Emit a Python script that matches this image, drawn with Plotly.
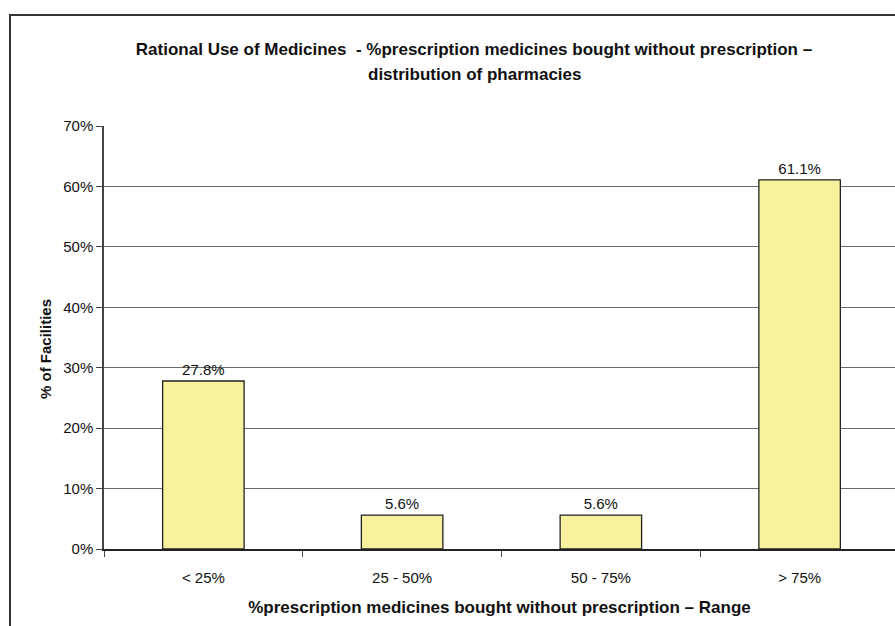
import plotly.graph_objects as go

# Share of pharmacies by range of prescription medicines sold without prescription
categories = ["< 25%", "25 - 50%", "50 - 75%", "> 75%"]
facilities_pct = [27.8, 5.6, 5.6, 61.1]

W, H = 895, 626
ML, MR, MT, MB = 104, 0, 126, 77
plot_w = W - ML - MR
plot_h = H - MT - MB


def px_x(x):
    return (x - ML) / plot_w


def px_y(y):
    return (H - MB - y) / plot_h


font_family = "Liberation Sans, Arial, sans-serif"
title_font = dict(family=font_family, size=17, color="#111111", weight="bold")

fig = go.Figure(
    go.Bar(
        x=categories,
        y=facilities_pct,
        width=0.41,
        marker=dict(color="#F8F19E", line=dict(color="#222222", width=1.3)),
        texttemplate="%{y:.1f}%",
        textposition="outside",
        textfont=dict(family=font_family, size=15, color="#111111"),
        cliponaxis=False,
    )
)

fig.update_layout(
    width=W,
    height=H,
    margin=dict(l=ML, r=MR, t=MT, b=MB),
    paper_bgcolor="white",
    plot_bgcolor="white",
    showlegend=False,
    font=dict(family=font_family, color="#111111"),
    title=dict(
        text="Rational Use of Medicines  - %prescription medicines bought without prescription \u2013",
        font=title_font,
        x=474 / W,
        xanchor="center",
        xref="container",
        y=1 - 49 / H,
        yanchor="middle",
        yref="container",
    ),
    xaxis=dict(
        type="category",
        range=[-0.5, 3.48],
        showgrid=False,
        showline=True,
        linecolor="#222222",
        linewidth=1.5,
        ticks="outside",
        tickson="boundaries",
        ticklen=6,
        tickcolor="#444444",
        tickfont=dict(family=font_family, size=15),
        ticklabelstandoff=14,
        title=dict(
            text="%prescription medicines bought without prescription \u2013 Range",
            font=dict(family=font_family, size=17, weight="bold"),
            standoff=16,
        ),
    ),
    yaxis=dict(
        range=[0, 70],
        dtick=10,
        ticksuffix="%",
        showgrid=True,
        gridcolor="#6a6a6a",
        gridwidth=1,
        showline=True,
        linecolor="#444444",
        linewidth=1.5,
        ticks="outside",
        ticklen=6,
        tickcolor="#444444",
        tickfont=dict(family=font_family, size=15),
        ticklabelstandoff=0,
        zeroline=False,
    ),
    annotations=[
        dict(
            text="distribution of pharmacies",
            xref="paper",
            yref="paper",
            x=px_x(474),
            y=px_y(74),
            showarrow=False,
            xanchor="center",
            yanchor="middle",
            font=title_font,
        ),
        dict(
            text="% of Facilities",
            xref="paper",
            yref="paper",
            x=px_x(45),
            y=px_y(349),
            textangle=-90,
            showarrow=False,
            xanchor="center",
            yanchor="middle",
            font=dict(family=font_family, size=15, weight="bold", color="#111111"),
        ),
    ],
    shapes=[
        dict(
            type="rect",
            xref="paper",
            yref="paper",
            x0=px_x(10),
            x1=px_x(W + 20),
            y0=px_y(H + 20),
            y1=px_y(15),
            line=dict(color="#333333", width=2),
            fillcolor="rgba(0,0,0,0)",
            layer="above",
        )
    ],
)

fig.write_html("out.html")
